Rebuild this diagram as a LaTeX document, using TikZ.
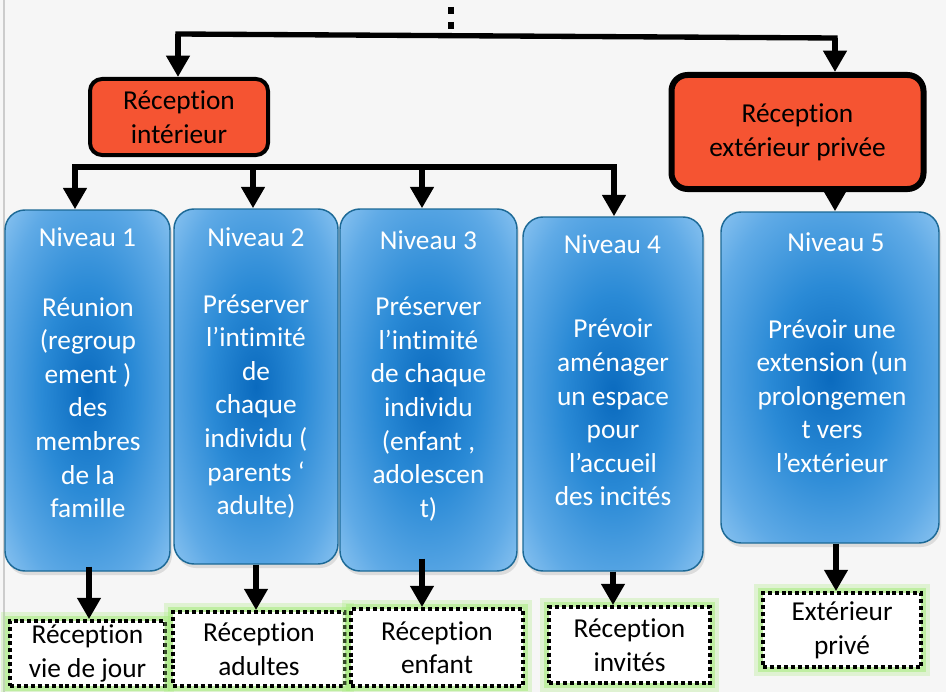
\documentclass[tikz,border=0pt]{standalone}
\usepackage{fontspec}
\setmainfont{Carlito}[Ligatures=NoCommon]
\usetikzlibrary{arrows.meta,shadows,calc}
\newdimen\pxu \pxu=0.75pt
\definecolor{bgc}{RGB}{246,246,246}
\definecolor{redfill}{RGB}{245,84,50}
\definecolor{blueA}{RGB}{10,106,190}
\definecolor{blueB}{RGB}{42,138,214}
\definecolor{blueC}{RGB}{95,170,230}
\definecolor{blueD}{RGB}{150,202,243}
\definecolor{blueedge}{RGB}{28,105,150}
\definecolor{glowc}{RGB}{170,236,130}
\pgfdeclareradialshading{bluerad}{\pgfpointorigin}{color(0bp)=(blueA); color(14bp)=(blueB); color(28bp)=(blueC); color(38bp)=(blueD); color(70bp)=(blueD)}
\begin{document}
\begin{tikzpicture}[x=0.75pt,y=-0.75pt,
 txt/.style={font=\fontsize{20.5}{25.2}\selectfont},
 redbox/.style={draw=black, fill=redfill, rounded corners=9pt, line width=3pt, txt, align=center, inner sep=0pt},
 bluebox/.style={draw=blueedge, line width=1.1pt, rounded corners=15pt, shading=bluerad, drop shadow={shadow xshift=1.5pt, shadow yshift=-3pt, opacity=0.22}},
 bluetxt/.style={txt, text=white, align=center, inner sep=0pt},
 dotbox/.style={draw=black, fill=white, line width=2.8pt, dash pattern=on 3pt off 2.2pt, txt, align=center, inner sep=0pt,
   preaction={draw=glowc, line width=13pt, solid, opacity=0.3},
   preaction={draw=glowc, line width=8pt, solid, opacity=0.6}},
 arr/.style={line width=4.5pt, -{Triangle[width=17pt,length=16pt]}},
 bar/.style={line cap=rect},
]
\fill[bgc] (0,0) rectangle (946,692);
\useasboundingbox (0,0) rectangle (946,692);
\draw[gray!40, line width=0.8pt] (4,0) -- (4,692);

% red boxes
\node[redbox, minimum width=178\pxu, minimum height=76\pxu] (r1) at (179,117) {Réception\\intérieur};
\node[redbox, line width=4.5pt, rounded corners=12pt, minimum width=252\pxu, minimum height=114\pxu] (r2) at (797.5,132) {Réception\\extérieur privée};

% blue boxes
\node[bluebox, minimum width=165\pxu, minimum height=361\pxu] (b1) at (87.5,390.5) {};
\node[bluebox, minimum width=164\pxu, minimum height=355\pxu] (b2) at (256,386.5) {};
\node[bluebox, minimum width=177\pxu, minimum height=362\pxu] (b3) at (428.5,390) {};
\node[bluebox, minimum width=180\pxu, minimum height=354\pxu] (b4) at (613,394) {};
\node[bluebox, minimum width=218\pxu, minimum height=331\pxu] (b5) at (830,377.5) {};

\node[bluetxt, anchor=base] (t1) at (87.5,246) {Niveau 1};
\node[bluetxt, anchor=base] (t2) at (256,246) {Niveau 2};
\node[bluetxt, anchor=base] (t3) at (428.5,249) {Niveau 3};
\node[bluetxt, anchor=base] (t4) at (612.5,253) {Niveau 4};
\node[bluetxt, anchor=base] (t5) at (836,251) {Niveau 5};

\node[bluetxt] (x1) at (88,407.5) {Réunion\\(regroup\\ement )\\des\\membres\\de la\\famille};
\node[bluetxt] (x2) at (256,406.5) {Préserver\\l’intimité\\de\\chaque\\individu (\\parents ‘\\adulte)};
\node[bluetxt] (x3) at (428.5,409) {Préserver\\l’intimité\\de chaque\\individu\\(enfant ,\\adolescen\\t)};
\node[bluetxt] (x4) at (613,412.5) {Prévoir\\aménager\\un espace\\pour\\l’accueil\\des incités};
\node[bluetxt] (x5) at (832,396) {Prévoir une\\extension (un\\prolongemen\\t vers\\l’extérieur};

% dotted boxes
\node[dotbox, minimum width=155\pxu, minimum height=65\pxu] (d1) at (87.5,653.5) {Réception\\vie de jour};
\node[dotbox, minimum width=172\pxu, minimum height=74\pxu] (d2) at (259,649) {Réception\\adultes};
\node[dotbox, minimum width=172\pxu, minimum height=77\pxu] (d3) at (437,647.5) {Réception\\enfant};
\node[dotbox, minimum width=161\pxu, minimum height=76\pxu] (d4) at (629.5,645) {Réception\\invités};
\node[dotbox, minimum width=158\pxu, minimum height=74\pxu] (d5) at (842,630) {Extérieur\\privé};

% top connectors
\coordinate (dA) at (451,7);
\coordinate (dB) at (451,29);
\draw[line width=5pt, dash pattern=on 5.25pt off 6pt] (dA) -- (dB);
\coordinate (topL) at (178,34);
\coordinate (topR) at (835,38);
\draw[bar, line width=4pt] (topL) -- (topR);
\draw[arr] (topL) -- (topL |- r1.north);
\draw[arr] (topR) -- (topR |- r2.north);

% middle bar
\coordinate (m1) at (75,167);
\coordinate (m2) at (253,167);
\coordinate (m3) at (422,167);
\coordinate (m4) at (614,167);
\draw[bar, line width=5pt] (m1) -- (m4);
\draw[arr] (m1) -- (m1 |- b1.north);
\draw[arr] (m2) -- (m2 |- b2.north);
\draw[arr] (m3) -- (m3 |- b3.north);
\draw[arr] (m4) -- (m4 |- b4.north);
\draw[arr] (topR |- r2.south) -- (topR |- b5.north);

% bottom arrows
\coordinate (a1s) at ([shift={(1.5,-5)}]b1.south);
\draw[arr] (a1s) -- (a1s |- d1.north);
\draw[arr] (b2.south) -- (b2.south |- d2.north);
\coordinate (a3s) at ([shift={(-6.5,-13)}]b3.south);
\draw[arr] (a3s) -- (a3s |- d3.north);
\draw[arr] (b4.south) -- (b4.south |- d4.north);
\coordinate (a5s) at ([shift={(6,0)}]b5.south);
\draw[arr] (a5s) -- (a5s |- d5.north);
\end{tikzpicture}
\end{document}
